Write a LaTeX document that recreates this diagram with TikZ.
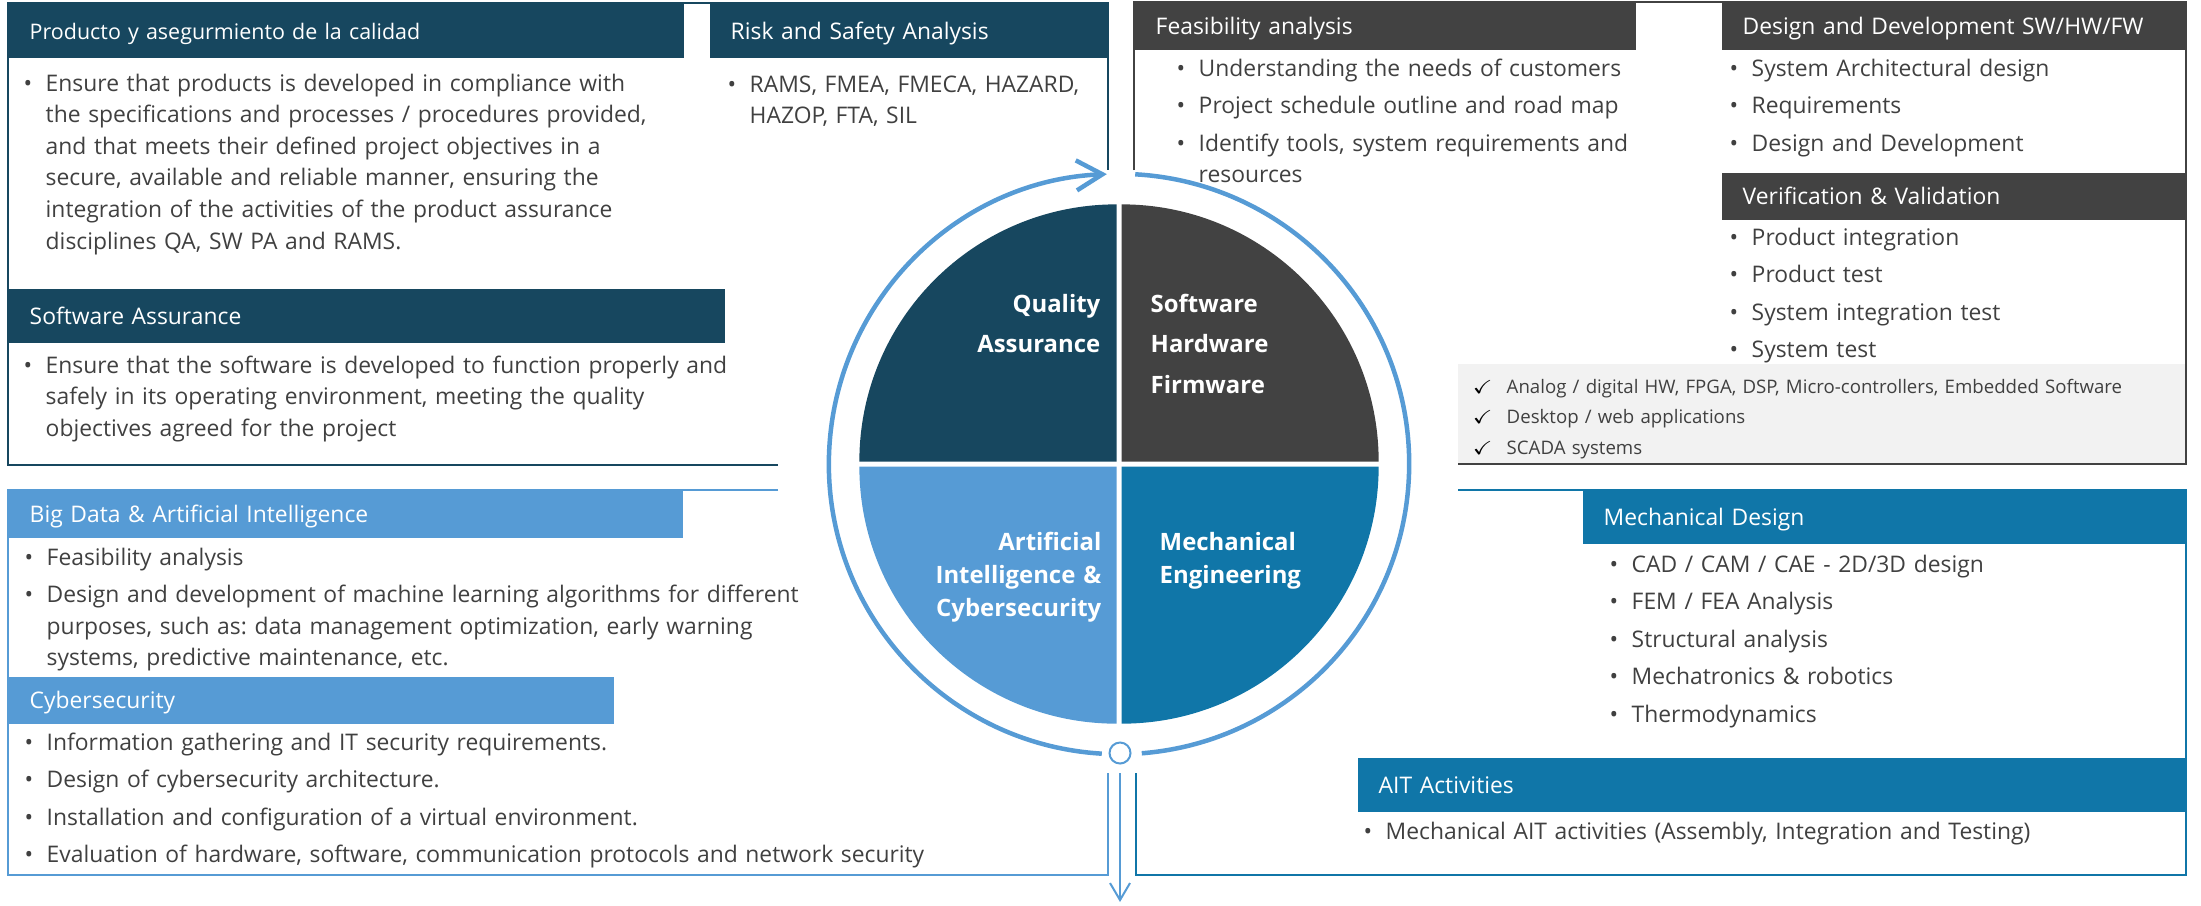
\documentclass[tikz,border=0pt]{standalone}
\usepackage{fontspec}
\setmainfont{Open Sans}
\usepackage{amssymb}
\usetikzlibrary{arrows.meta}
\definecolor{navy}{HTML}{17475F}
\definecolor{dgray}{HTML}{424242}
\definecolor{lblue}{HTML}{569BD5}
\definecolor{mblue}{HTML}{1076A8}
\definecolor{txt}{HTML}{404040}
\definecolor{boxgray}{HTML}{F2F2F2}
\frenchspacing
\newcommand\itm[1]{\hangindent=2.2mm\hangafter=1\noindent\makebox[2.2mm][l]{\textbullet}#1\par\vspace{1.7pt}}
\newcommand\chk[1]{\noindent\makebox[3.3mm][l]{\hspace{-0.5pt}\color{black}$\checkmark$}#1\par}

\begin{document}
\begin{tikzpicture}[x=0.01cm, y=-0.01cm,
	hdr/.style={anchor=north west, fill=#1, text=white, inner xsep=2.1mm, inner ysep=0pt,
		align=left, text height=4.8pt, text depth=0pt, font=\fontsize{6.5}{8}\selectfont},
	body/.style={anchor=base west, inner sep=0pt, text=txt, text width=#1,
		font=\fontsize{6.5}{9}\selectfont\frenchspacing},
	frame/.style={draw=#1, line width=0.22mm},
	lbl/.style={text=white, inner sep=0pt, text width=3cm, font=\fontsize{6.8}{#1}\selectfont\bfseries},
	ring/.style={draw=lblue, line width=0.45mm}]
\useasboundingbox (0,0) rectangle (2201,905);

\fill[boxgray] (1458,364) rectangle (2186,464);

\begin{scope}
\coordinate (C) at (1119,464);
\fill[navy] ([shift={(-0.25mm,0.25mm)}]C) -- ++(-2.57cm,0) arc[start angle=180, end angle=90, radius=2.57cm] -- cycle;
\fill[dgray] ([shift={(0.25mm,0.25mm)}]C) -- ++(0,2.57cm) arc[start angle=90, end angle=0, radius=2.57cm] -- cycle;
\fill[lblue] ([shift={(-0.25mm,-0.25mm)}]C) -- ++(-2.57cm,0) arc[start angle=180, end angle=270, radius=2.57cm] -- cycle;
\fill[mblue] ([shift={(0.25mm,-0.25mm)}]C) -- ++(2.57cm,0) arc[start angle=0, end angle=-90, radius=2.57cm] -- cycle;
\draw[ring] (C) ++(86.8:2.9cm) arc[start angle=86.8, end angle=-85.5, radius=2.9cm];
\draw[ring, -{Straight Barb[length=2.6mm, width=3mm]}] (C) ++(-93.4:2.9cm) arc[start angle=-93.4, end angle=-267.6, radius=2.9cm];
\node[circle, draw=lblue, line width=0.2mm, fill=white, minimum size=2.1mm, inner sep=0pt] (hub) at (1120,753) {};
\coordinate (out) at (1120,902);
\draw[lblue, line width=0.2mm, -{Straight Barb[length=1.7mm, width=2mm]}] ([yshift=-0.85mm]hub.south) -- (out);
\node[lbl=11.6pt, align=right, anchor=base east] (QA) at (1101,312) {Quality\\Assurance};
\node[lbl=11.6pt, align=left, anchor=base west] (SHF) at (1150,312) {Software\\Hardware\\Firmware};
\node[lbl=9.5pt, align=right, anchor=base east] (AIC) at (1102,550) {Artificial\\Intelligence \&\\Cybersecurity};
\node[lbl=9.5pt, align=left, anchor=base west] (ME) at (1159,550) {Mechanical\\Engineering};
\end{scope}

\draw[frame=navy] (778,465) -- (8,465) -- (8,3) -- (1108,3) -- (1108,170);
\draw[frame=dgray] (1134,170) -- (1134,2) -- (2186,2) -- (2186,464) -- (1458,464);
\draw[frame=lblue] (778,490) -- (8,490) -- (8,875) -- (1108,875) -- (1108,773);
\draw[frame=mblue] (1458,490) -- (2186,490) -- (2186,875) -- (1136,875) -- (1136,773);

\node[hdr=navy, text width=63.3mm, minimum height=5.4mm, font=\fontsize{6.1}{8}\selectfont] (PQh) at (8,3) {Producto y asegurmiento de la calidad};
\node[hdr=navy, text width=35.7mm, minimum height=5.4mm] (RSh) at (709,3) {Risk and Safety Analysis};
\node[hdr=navy, text width=67.4mm, minimum height=5.4mm] (SAh) at (8,288) {Software Assurance};
\node[hdr=dgray, text width=45.9mm, minimum height=4.7mm] (FAh) at (1134,2) {Feasibility analysis};
\node[hdr=dgray, text width=42.3mm, minimum height=4.7mm] (DDh) at (1721,2) {Design and Development SW/HW/FW};
\node[hdr=dgray, text width=42.3mm, minimum height=4.7mm] (VVh) at (1721,172) {Verification \& Validation};
\node[hdr=lblue, text width=63.2mm, minimum height=4.7mm] (BDh) at (8,490) {Big Data \& Artificial Intelligence};
\node[hdr=lblue, text width=56.3mm, minimum height=4.7mm] (CSh) at (8,676) {Cybersecurity};
\node[hdr=mblue, text width=56.2mm, minimum height=5.3mm] (MDh) at (1582,490) {Mechanical Design};
\node[hdr=mblue, text width=78.7mm, minimum height=5.4mm] (AITh) at (1357,757) {AIT Activities};

\node[body=9cm] (PQb) at (23,91) {\itm{Ensure that products is developed in compliance with\newline the specifications and processes / procedures provided,\newline and that meets their defined project objectives in a\newline secure, available and reliable manner, ensuring the\newline integration of the activities of the product assurance\newline disciplines QA, SW PA and RAMS.}};
\node[body=5cm] (RSb) at (727,92) {\itm{RAMS, FMEA, FMECA, HAZARD,\newline HAZOP, FTA, SIL}};
\node[body=9cm] (SAb) at (23,373) {\itm{Ensure that the software is developed to function properly and\newline safely in its operating environment, meeting the quality\newline objectives agreed for the project}};
\node[body=5.5cm] (FAb) at (1176,76) {\itm{Understanding the needs of customers}\itm{Project schedule outline and road map}\itm{Identify tools, system requirements and\newline resources}};
\node[body=4.5cm] (DDb) at (1729,76) {\itm{System Architectural design}\itm{Requirements}\itm{Design and Development}};
\node[body=4.5cm] (VVb) at (1729,245) {\itm{Product integration}\itm{Product test}\itm{System integration test}\itm{System test}};
\node[body=7.2cm, font=\fontsize{5.3}{8.8}\selectfont\frenchspacing] (CKb) at (1473,393) {\chk{Analog / digital HW, FPGA, DSP, Micro-controllers, Embedded Software}\chk{Desktop / web applications}\chk{SCADA systems}};
\node[body=9cm] (BDb) at (24,565) {\itm{Feasibility analysis}\itm{Design and development of machine learning algorithms for different\newline purposes, such as: data management optimization, early warning\newline systems, predictive maintenance, etc.}};
\node[body=10cm] (CSb) at (24,750) {\itm{Information gathering and IT security requirements.}\itm{Design of cybersecurity architecture.}\itm{Installation and configuration of a virtual environment.}\itm{Evaluation of hardware, software, communication protocols and network security}};
\node[body=5cm] (MDb) at (1609,572) {\itm{CAD / CAM / CAE - 2D/3D design}\itm{FEM / FEA Analysis}\itm{Structural analysis}\itm{Mechatronics \& robotics}\itm{Thermodynamics}};
\node[body=8cm] (AITb) at (1363,839) {\itm{Mechanical AIT activities (Assembly, Integration and Testing)}};
\end{tikzpicture}
\end{document}
